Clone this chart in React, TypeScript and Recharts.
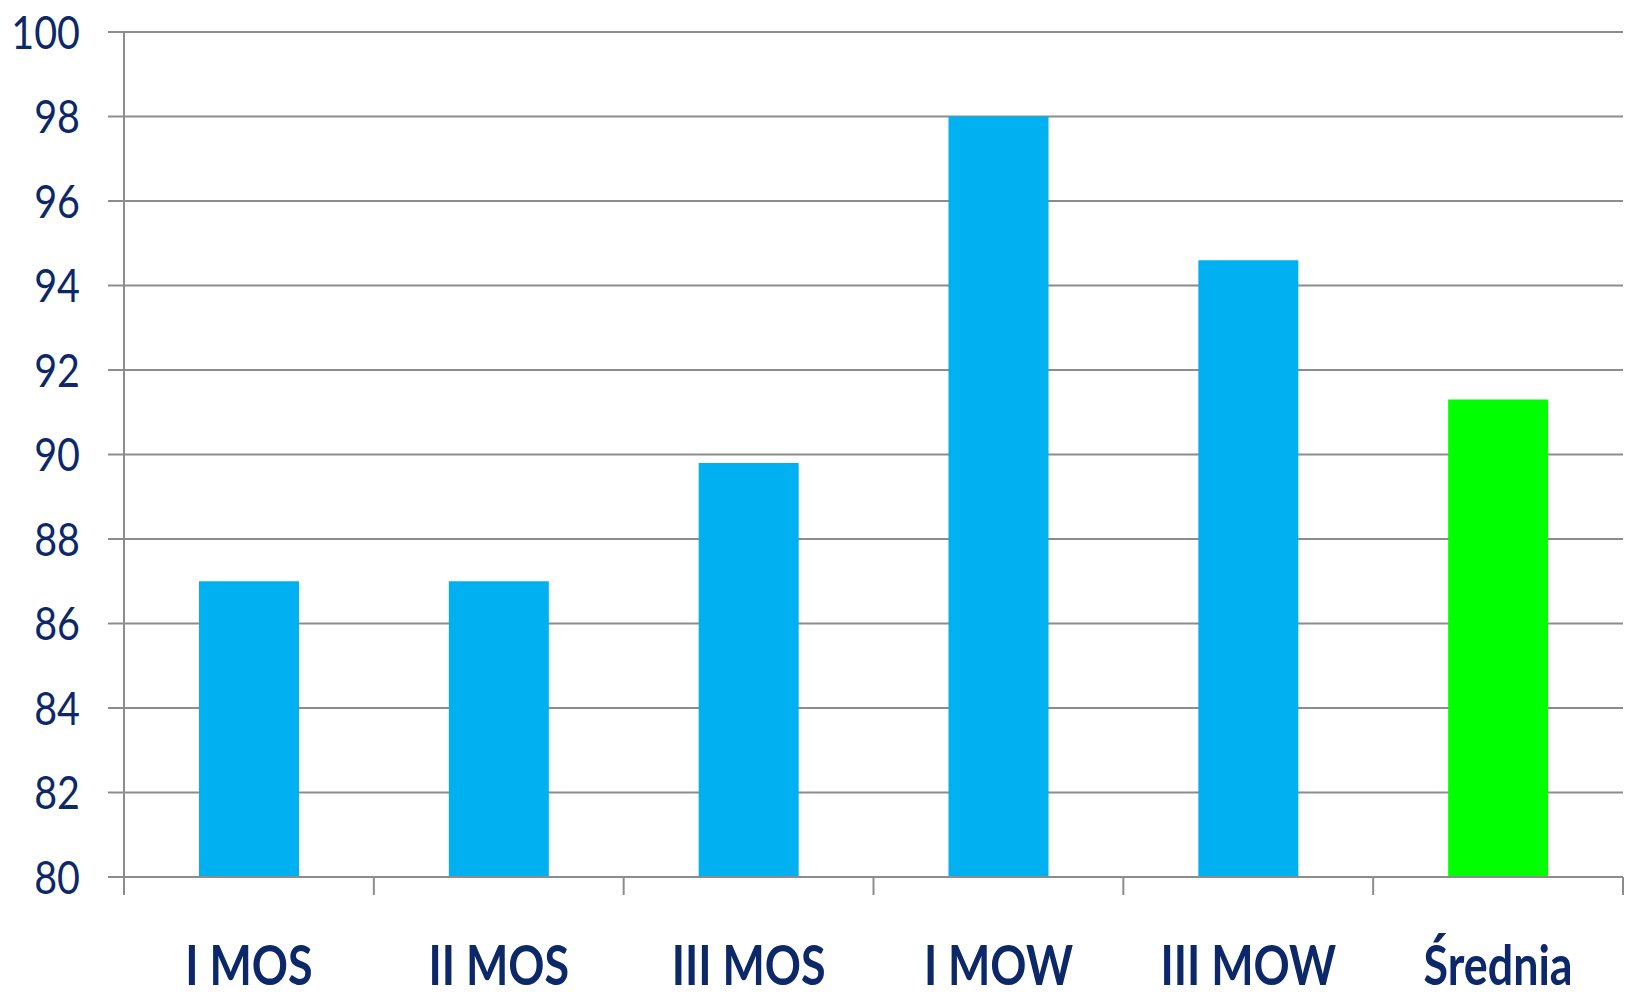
import { BarChart, Bar, XAxis, YAxis, CartesianGrid, Cell } from "recharts";

const groups = ["I MOS", "II MOS", "III MOS", "I MOW", "III MOW", "Średnia"];
const scores = [87, 87, 89.8, 98, 94.6, 91.3];
const barColors = ["#00b0f0", "#00b0f0", "#00b0f0", "#00b0f0", "#00b0f0", "#00ff00"];
const yTicks = [80, 82, 84, 86, 88, 90, 92, 94, 96, 98, 100];

const data = groups.map((g, i) => ({ group: g, score: scores[i] }));

const NAVY = "#0c2868";
const GRID = "#8c8c8c";
const FONT = "Lato, 'Open Sans', sans-serif";
const LABEL_GAP = 68;

// text is squeezed a little to get the narrow Calibri look
function GroupTick(props: any) {
  const { x, y, payload, index } = props;
  const half = payload?.offset ?? 125;
  const axisY = y - LABEL_GAP;
  return (
    <g>
      <line x1={x - half} x2={x - half} y1={axisY} y2={axisY + 18} stroke={GRID} strokeWidth={2} />
      {index === groups.length - 1 && (
        <line x1={x + half} x2={x + half} y1={axisY} y2={axisY + 18} stroke={GRID} strokeWidth={2} />
      )}
      <text
        transform={`translate(${x},${y}) scale(0.8,1)`}
        x={0}
        y={0}
        dy="0.72em"
        textAnchor="middle"
        fill={NAVY}
        fontSize={56}
        fontWeight="bold"
        fontFamily={FONT}
      >
        {payload.value}
      </text>
    </g>
  );
}

function ScoreTick(props: any) {
  const { x, y, payload } = props;
  return (
    <text
      transform={`translate(${x},${y}) scale(0.84,1)`}
      x={0}
      y={0}
      dy="0.36em"
      textAnchor="end"
      fill={NAVY}
      fontSize={47}
      fontFamily={FONT}
    >
      {payload.value}
    </text>
  );
}

export default function App() {
  return (
    <div style={{ marginTop: -8, height: 1000 }}>
      <BarChart
        width={1626}
        height={1000}
        data={data}
        margin={{ top: 32, right: 11, left: 16, bottom: 23 }}
      >
        <CartesianGrid vertical={false} stroke={GRID} strokeWidth={2} />

        <XAxis
          dataKey="group"
          height={100}
          axisLine={{ stroke: GRID, strokeWidth: 2 }}
          tickLine={false}
          tickSize={0}
          tickMargin={LABEL_GAP}
          tick={<GroupTick />}
          interval={0}
        />

        <YAxis
          domain={[80, 100]}
          ticks={yTicks}
          width={100}
          axisLine={{ stroke: GRID, strokeWidth: 2 }}
          tickLine={{ stroke: GRID, strokeWidth: 2 }}
          tickSize={16}
          tickMargin={28}
          tick={<ScoreTick />}
          allowDataOverflow
        />

        <Bar dataKey="score" barSize={100} isAnimationActive={false}>
          {data.map((d, i) => (
            <Cell key={d.group} fill={barColors[i]} />
          ))}
        </Bar>
      </BarChart>
    </div>
  );
}
